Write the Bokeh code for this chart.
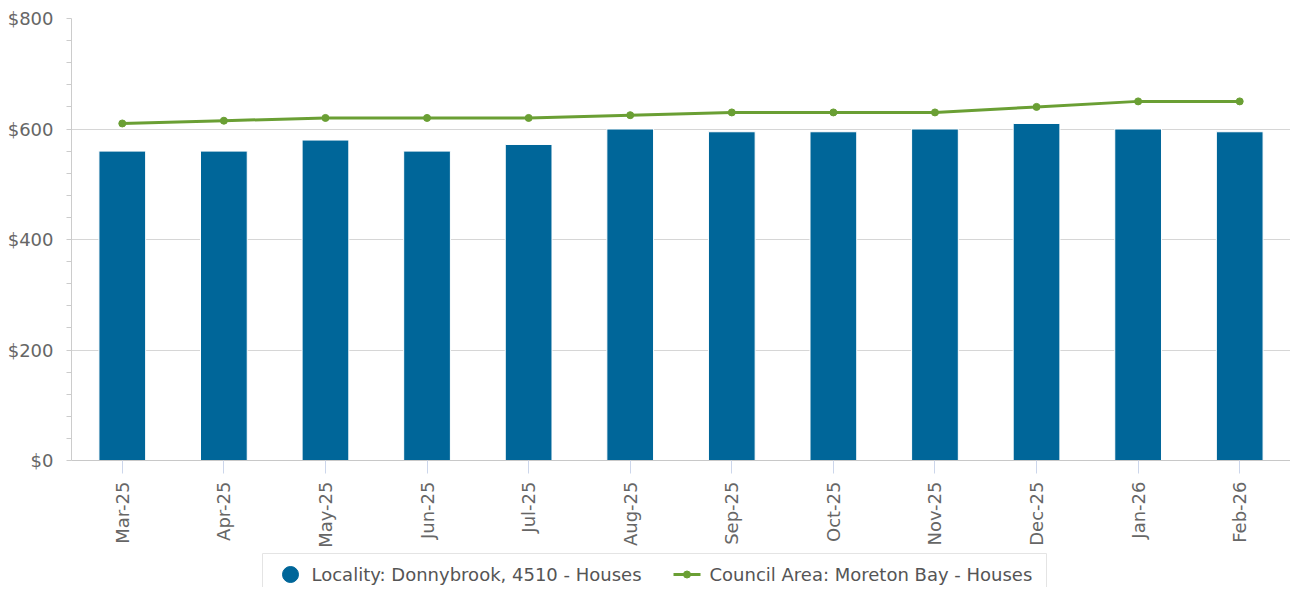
import math
from bokeh.plotting import figure
from bokeh.models import FactorRange, Range1d, FixedTicker, NumeralTickFormatter
from bokeh.layouts import column
from bokeh.embed import file_html
from bokeh.resources import INLINE
from bokeh.core.properties import value

# ---- data ----
months = ["Mar-25", "Apr-25", "May-25", "Jun-25", "Jul-25", "Aug-25",
          "Sep-25", "Oct-25", "Nov-25", "Dec-25", "Jan-26", "Feb-26"]
locality = [560, 560, 580, 560, 572, 600, 595, 595, 600, 610, 600, 595]
council = [610, 615, 620, 620, 620, 625, 630, 630, 630, 640, 650, 650]
y_ticks = [0, 200, 400, 600, 800]
series_names = ["Locality: Donnybrook, 4510 - Houses",
                "Council Area: Moreton Bay - Houses"]

FONT = "DejaVu Sans"
FS = "18px"
BAR = "#006699"
GREEN = "#6a9f34"
LABEL = "#666666"

W = 1290
FRAME_L = 71

p = figure(x_range=FactorRange(*months, range_padding=0),
           y_range=Range1d(0, 800),
           width=W, height=550, output_backend="svg", toolbar_location=None,
           min_border_left=FRAME_L, min_border_right=0, min_border_top=18,
           min_border_bottom=90)
p.outline_line_color = None
p.background_fill_color = "white"
p.border_fill_color = "white"

p.vbar(x=months, top=locality, width=0.46, fill_color=BAR, line_color="white",
       line_width=1)
p.line(x=months, y=council, line_color=GREEN, line_width=3)
p.scatter(x=months, y=council, size=7, fill_color=GREEN, line_color=GREEN)

minor = [v for v in range(0, 801, 40) if v not in y_ticks]
p.yaxis.ticker = FixedTicker(ticks=y_ticks, minor_ticks=minor)
p.yaxis.formatter = NumeralTickFormatter(format="$0,0")
p.yaxis.axis_line_color = "#cccccc"
p.yaxis.major_tick_line_color = "#cccccc"
p.yaxis.minor_tick_line_color = "#cccccc"
p.yaxis.major_tick_in = 0
p.yaxis.major_tick_out = 5
p.yaxis.minor_tick_in = 0
p.yaxis.minor_tick_out = 5
p.yaxis.major_label_standoff = 13
p.yaxis.major_label_text_font = FONT
p.yaxis.major_label_text_font_size = FS
p.yaxis.major_label_text_color = LABEL

p.xaxis.axis_line_color = "#c8c8c8"
p.xaxis.major_tick_line_color = "#ccd6eb"
p.xaxis.major_tick_in = 0
p.xaxis.major_tick_out = 13
p.xaxis.minor_tick_line_color = None
p.xaxis.major_label_orientation = math.pi / 2
p.xaxis.major_label_standoff = 8
p.xaxis.major_label_text_font = FONT
p.xaxis.major_label_text_font_size = FS
p.xaxis.major_label_text_color = LABEL

p.xgrid.grid_line_color = None
p.ygrid.ticker = FixedTicker(ticks=y_ticks[1:])
p.ygrid.grid_line_color = "#d6d6d6"

# ---- legend strip (frame aligned with main frame; data units = page px) ----
LH = 37
YI = 24
lg = figure(x_range=Range1d(FRAME_L, W), y_range=Range1d(LH, 0),
            width=W, height=LH, output_backend="svg", toolbar_location=None,
            min_border=0, x_axis_location=None, y_axis_location=None)
lg.grid.visible = False
lg.outline_line_color = None
lg.border_fill_color = "white"
lg.quad(left=262, right=1046, top=3, bottom=70, fill_color=None,
        line_color="#e4e4e4", line_width=1)
lg.scatter(x=[290], y=[YI], size=16, fill_color=BAR, line_color=BAR)
lg.text(x=[311], y=[YI], text=[series_names[0]], text_font=value(FONT),
        text_font_size=FS, text_baseline="middle", text_color="#555555")
lg.line(x=[673, 700], y=[YI, YI], line_color=GREEN, line_width=3)
lg.scatter(x=[686.5], y=[YI], size=7, fill_color=GREEN, line_color=GREEN)
lg.text(x=[709], y=[YI], text=[series_names[1]], text_font=value(FONT),
        text_font_size=FS, text_baseline="middle", text_color="#555555")

layout = column(p, lg, spacing=0)
open("out.html", "w").write(file_html(layout, INLINE))
